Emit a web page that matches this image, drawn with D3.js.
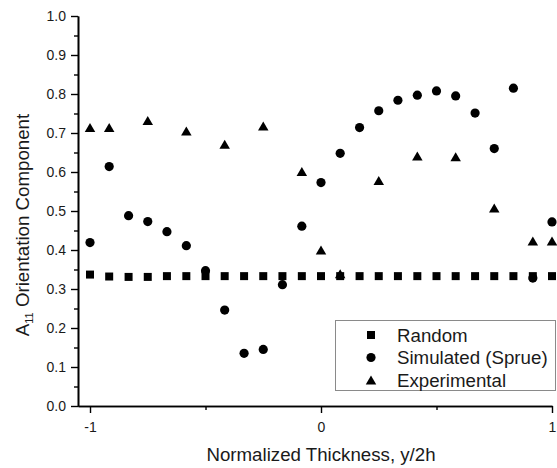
<!DOCTYPE html>
<html>
<head>
<meta charset="utf-8">
<script src="https://cdn.jsdelivr.net/npm/d3@7"></script>
<style>
  html, body { margin: 0; padding: 0; background: #fff; }
  svg { display: block; font-family: "Liberation Sans", Arial, sans-serif; }
</style>
</head>
<body>
<svg id="chart" width="557" height="468"></svg>
<script>
// ---- data ----
const xRandom = [-1, -0.917, -0.833, -0.75, -0.667, -0.583, -0.5, -0.417, -0.333, -0.25, -0.167, -0.083, 0,
                 0.083, 0.167, 0.25, 0.333, 0.417, 0.5, 0.583, 0.667, 0.75, 0.833, 0.917, 1];
const randomVals = [0.337, 0.332, 0.331, 0.331, 0.333, 0.333, 0.333, 0.333, 0.333, 0.333, 0.333, 0.333, 0.333,
                    0.333, 0.333, 0.333, 0.333, 0.333, 0.333, 0.333, 0.333, 0.333, 0.333, 0.333, 0.333];
const xSimulated = [-1, -0.917, -0.833, -0.75, -0.667, -0.583, -0.5, -0.417, -0.333, -0.25, -0.167, -0.083, 0,
                    0.083, 0.167, 0.25, 0.333, 0.417, 0.5, 0.583, 0.667, 0.75, 0.833, 0.917, 1];
const simulatedVals = [0.419, 0.614, 0.488, 0.473, 0.447, 0.411, 0.347, 0.246, 0.135, 0.145, 0.311, 0.461, 0.573,
                       0.648, 0.714, 0.757, 0.784, 0.797, 0.808, 0.795, 0.751, 0.660, 0.815, 0.328, 0.472];
const xExperimental = [-1, -0.917, -0.75, -0.583, -0.417, -0.25, -0.083, 0, 0.083, 0.25, 0.417, 0.583, 0.75, 0.917, 1];
const experimentalVals = [0.714, 0.714, 0.732, 0.705, 0.671, 0.718, 0.601, 0.400, 0.339, 0.578, 0.641, 0.639, 0.508, 0.423, 0.423];

const seriesNames = ["Random", "Simulated (Sprue)", "Experimental"];
const xTickValues = [-1, 0, 1];
const xTickLabels = ["-1", "0", "1"];
const xMinorTicks = [-0.5, 0.5];
const yTickValues = [0, 0.1, 0.2, 0.3, 0.4, 0.5, 0.6, 0.7, 0.8, 0.9, 1.0];
const yTickLabels = ["0.0", "0.1", "0.2", "0.3", "0.4", "0.5", "0.6", "0.7", "0.8", "0.9", "1.0"];
const yMinorTicks = [0.05, 0.15, 0.25, 0.35, 0.45, 0.55, 0.65, 0.75, 0.85, 0.95];
const xTitle = "Normalized Thickness, y/2h";

// ---- layout ----
const svg = d3.select("#chart");
const x = d3.scaleLinear().domain([-1.052, 1.0]).range([78, 552]);
const y = d3.scaleLinear().domain([0, 1]).range([406, 16]);

// axes
const gx = svg.append("g").attr("transform", `translate(0,${y(0)})`)
  .call(d3.axisBottom(x).tickValues(xTickValues).tickFormat((d, i) => xTickLabels[i]).tickSize(7).tickPadding(9).tickSizeOuter(0));
const gxm = svg.append("g").attr("transform", `translate(0,${y(0)})`)
  .call(d3.axisBottom(x).tickValues(xMinorTicks).tickFormat("").tickSize(4).tickSizeOuter(0));
const gy = svg.append("g").attr("transform", `translate(${x.range()[0]},0)`)
  .call(d3.axisLeft(y).tickValues(yTickValues).tickFormat((d, i) => yTickLabels[i]).tickSize(7).tickPadding(5).tickSizeOuter(0));
const gym = svg.append("g").attr("transform", `translate(${x.range()[0]},0)`)
  .call(d3.axisLeft(y).tickValues(yMinorTicks).tickFormat("").tickSize(4).tickSizeOuter(0));

[gx, gxm, gy, gym].forEach(g => {
  g.selectAll("path.domain").attr("stroke", "#000").attr("stroke-width", 1.6);
  g.selectAll(".tick line").attr("stroke", "#000").attr("stroke-width", 1.4);
  g.selectAll("text").attr("font-size", 14).attr("fill", "#1a1a1a").attr("font-family", "Liberation Sans, Arial, sans-serif");
});

// axis titles
svg.append("text")
  .attr("x", 321).attr("y", 461)
  .attr("text-anchor", "middle")
  .attr("font-size", 18.7).attr("fill", "#1a1a1a")
  .text(xTitle);

const yt = svg.append("text")
  .attr("transform", "translate(29,225) rotate(-90)")
  .attr("text-anchor", "middle")
  .attr("font-size", 18.7).attr("fill", "#1a1a1a");
yt.append("tspan").text("A");
yt.append("tspan").attr("font-size", 11).attr("dy", 4).text("11");
yt.append("tspan").attr("dy", -4).text(" Orientation Component");

// markers
function squarePath(s) { const h = s / 2; return `M${-h},${-h}H${h}V${h}H${-h}Z`; }
function trianglePath(w, ht) { return `M0,${-ht / 2}L${w / 2},${ht / 2}L${-w / 2},${ht / 2}Z`; }

const plot = svg.append("g");
plot.selectAll("path.rand").data(xRandom).join("path")
  .attr("class", "rand")
  .attr("transform", (d, i) => `translate(${x(d)},${y(randomVals[i])})`)
  .attr("d", squarePath(8)).attr("fill", "#000");

plot.selectAll("circle.sim").data(xSimulated).join("circle")
  .attr("class", "sim")
  .attr("cx", d => x(d)).attr("cy", (d, i) => y(simulatedVals[i]))
  .attr("r", 4.6).attr("fill", "#000");

plot.selectAll("path.exp").data(xExperimental).join("path")
  .attr("class", "exp")
  .attr("transform", (d, i) => `translate(${x(d)},${y(experimentalVals[i])})`)
  .attr("d", trianglePath(10.5, 9)).attr("fill", "#000");

// legend
const lg = svg.append("g");
lg.append("rect").attr("x", 335.5).attr("y", 320.5).attr("width", 220).attr("height", 70)
  .attr("fill", "#fff").attr("stroke", "#8a8a8a").attr("stroke-width", 1);
const rowY = [335, 357.5, 380];
const shapes = [squarePath(8), null, trianglePath(10.5, 9)];
seriesNames.forEach((name, i) => {
  if (i === 1) {
    lg.append("circle").attr("cx", 371).attr("cy", rowY[i]).attr("r", 4.6).attr("fill", "#000");
  } else {
    lg.append("path").attr("transform", `translate(371,${rowY[i]})`).attr("d", shapes[i]).attr("fill", "#000");
  }
  lg.append("text").attr("x", 397).attr("y", rowY[i]).attr("dy", "0.35em")
    .attr("font-size", 18.7).attr("fill", "#1a1a1a").text(name);
});
</script>
</body>
</html>
